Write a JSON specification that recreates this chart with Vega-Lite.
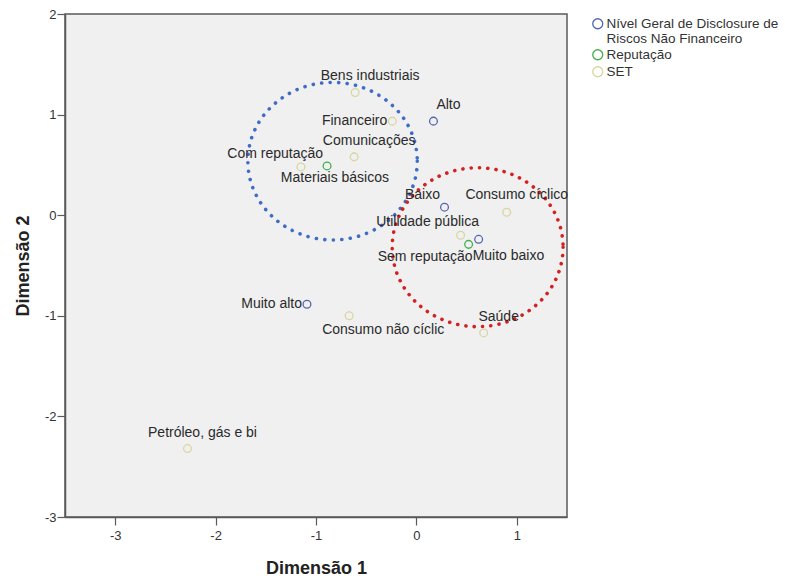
{
  "$schema": "https://vega.github.io/schema/vega-lite/v6.json",
  "width": 502,
  "height": 503,
  "autosize": {"type": "none"},
  "padding": {"left": 65, "top": 14, "right": 218, "bottom": 62},
  "background": "white",
  "config": {
    "font": "Liberation Sans",
    "view": {"fill": "#f0f0f0", "stroke": "#5a5a5a", "strokeWidth": 1.5}
  },
  "data": {
    "values": [
      {"label": "Alto", "grupo": "Nível Geral de Disclosure de Riscos Não Financeiro", "x": 0.17, "y": 0.935},
      {"label": "Baixo", "grupo": "Nível Geral de Disclosure de Riscos Não Financeiro", "x": 0.28, "y": 0.08},
      {"label": "Muito baixo", "grupo": "Nível Geral de Disclosure de Riscos Não Financeiro", "x": 0.62, "y": -0.24},
      {"label": "Muito alto", "grupo": "Nível Geral de Disclosure de Riscos Não Financeiro", "x": -1.09, "y": -0.885},
      {"label": "Com reputação", "grupo": "Reputação", "x": -0.89, "y": 0.49},
      {"label": "Sem reputação", "grupo": "Reputação", "x": 0.52, "y": -0.29},
      {"label": "Bens industriais", "grupo": "SET", "x": -0.61, "y": 1.22},
      {"label": "Financeiro", "grupo": "SET", "x": -0.24, "y": 0.935},
      {"label": "Comunicações", "grupo": "SET", "x": -0.62, "y": 0.58},
      {"label": "Materiais básicos", "grupo": "SET", "x": -1.15, "y": 0.48},
      {"label": "Consumo cíclico", "grupo": "SET", "x": 0.9, "y": 0.03},
      {"label": "Utilidade pública", "grupo": "SET", "x": 0.44, "y": -0.2},
      {"label": "Saúde", "grupo": "SET", "x": 0.67, "y": -1.17},
      {"label": "Consumo não cíclic", "grupo": "SET", "x": -0.67, "y": -1.0},
      {"label": "Petróleo, gás e bi", "grupo": "SET", "x": -2.28, "y": -2.32}
    ]
  },
  "encoding": {
    "x": {
      "field": "x", "type": "quantitative",
      "scale": {"domain": [-3.5, 1.5], "nice": false, "zero": false},
      "axis": {"title": "Dimensão 1", "values": [-3, -2, -1, 0, 1], "labelExpr": "'' + datum.value", "grid": false, "tickSize": 8, "labelPadding": 4, "labelFontSize": 13, "labelColor": "#333333", "titleFontSize": 18, "titleFontWeight": "bold", "titleColor": "#222222", "titlePadding": 17, "domainColor": "#5a5a5a", "domainWidth": 1.5, "tickColor": "#5a5a5a", "tickWidth": 1.2}
    },
    "y": {
      "field": "y", "type": "quantitative",
      "scale": {"domain": [-3, 2], "nice": false, "zero": false},
      "axis": {"title": "Dimensão 2", "values": [-3, -2, -1, 0, 1, 2], "labelExpr": "'' + datum.value", "grid": false, "tickSize": 8, "labelPadding": 1, "labelFontSize": 13, "labelColor": "#333333", "titleFontSize": 18, "titleFontWeight": "bold", "titleColor": "#222222", "titlePadding": 12, "domainColor": "#5a5a5a", "domainWidth": 1.5, "tickColor": "#5a5a5a", "tickWidth": 1.2}
    }
  },
  "layer": [
    {
      "data": {"values": [{"x": -0.835, "y": 0.537}]},
      "mark": {"type": "point", "shape": "M 1 0 C 1 0.5136 0.5523 0.93 0 0.93 C -0.5523 0.93 -1 0.5136 -1 0 C -1 -0.5136 -0.5523 -0.93 0 -0.93 C 0.5523 -0.93 1 -0.5136 1 0 Z", "size": 28700, "filled": false, "stroke": "#3f6cc6", "strokeWidth": 3.6, "strokeDash": [0.1, 8.4], "strokeCap": "round", "opacity": 1}
    },
    {
      "data": {"values": [{"x": 0.61, "y": -0.318}]},
      "mark": {"type": "point", "shape": "M 1 0 C 1 0.5136 0.5523 0.93 0 0.93 C -0.5523 0.93 -1 0.5136 -1 0 C -1 -0.5136 -0.5523 -0.93 0 -0.93 C 0.5523 -0.93 1 -0.5136 1 0 Z", "size": 29200, "filled": false, "stroke": "#d42020", "strokeWidth": 3.6, "strokeDash": [0.1, 8.2], "strokeCap": "round", "opacity": 1}
    },
    {
      "mark": {"type": "point", "shape": "circle", "filled": false, "size": 60, "strokeWidth": 1.3, "opacity": 1},
      "encoding": {
        "color": {
          "field": "grupo", "type": "nominal",
          "scale": {"domain": ["Nível Geral de Disclosure de Riscos Não Financeiro", "Reputação", "SET"], "range": ["#5565ad", "#45ad4e", "#d8d6a0"]},
          "legend": {"title": null, "orient": "none", "legendX": 526, "legendY": 3, "symbolType": "circle", "symbolSize": 100, "symbolStrokeWidth": 1.3, "labelFontSize": 13.5, "labelColor": "#333333", "labelLimit": 240, "rowPadding": 1, "labelOffset": 2,
            "labelExpr": "datum.label == 'Nível Geral de Disclosure de Riscos Não Financeiro' ? ['Nível Geral de Disclosure de', 'Riscos Não Financeiro'] : datum.label"}
        }
      }
    },
    {
      "transform": [{"filter": {"field": "label", "oneOf": ["Bens industriais", "Comunicações", "Saúde", "Petróleo, gás e bi", "Alto"]}}],
      "mark": {"type": "text", "fontSize": 14, "color": "#2a2a2a", "dx": 15, "dy": -16},
      "encoding": {"text": {"field": "label"}}
    },
    {
      "transform": [{"filter": {"field": "label", "equal": "Consumo cíclico"}}],
      "mark": {"type": "text", "fontSize": 14, "color": "#2a2a2a", "dx": 10, "dy": -17},
      "encoding": {"text": {"field": "label"}}
    },
    {
      "transform": [{"filter": {"field": "label", "oneOf": ["Financeiro", "Muito alto"]}}],
      "mark": {"type": "text", "fontSize": 14, "color": "#2a2a2a", "align": "right", "dx": -5, "dy": 0},
      "encoding": {"text": {"field": "label"}}
    },
    {
      "transform": [{"filter": {"field": "label", "equal": "Com reputação"}}],
      "mark": {"type": "text", "fontSize": 14, "color": "#2a2a2a", "align": "right", "dx": -4, "dy": -12},
      "encoding": {"text": {"field": "label"}}
    },
    {
      "transform": [{"filter": {"field": "label", "equal": "Materiais básicos"}}],
      "mark": {"type": "text", "fontSize": 14, "color": "#2a2a2a", "dx": 34, "dy": 11},
      "encoding": {"text": {"field": "label"}}
    },
    {
      "transform": [{"filter": {"field": "label", "equal": "Baixo"}}],
      "mark": {"type": "text", "fontSize": 14, "color": "#2a2a2a", "dx": -22, "dy": -12},
      "encoding": {"text": {"field": "label"}}
    },
    {
      "transform": [{"filter": {"field": "label", "equal": "Utilidade pública"}}],
      "mark": {"type": "text", "fontSize": 14, "color": "#2a2a2a", "dx": -33, "dy": -13},
      "encoding": {"text": {"field": "label"}}
    },
    {
      "transform": [{"filter": {"field": "label", "equal": "Sem reputação"}}],
      "mark": {"type": "text", "fontSize": 14, "color": "#2a2a2a", "align": "right", "dx": 4, "dy": 13},
      "encoding": {"text": {"field": "label"}}
    },
    {
      "transform": [{"filter": {"field": "label", "equal": "Muito baixo"}}],
      "mark": {"type": "text", "fontSize": 14, "color": "#2a2a2a", "align": "left", "dx": -6, "dy": 17},
      "encoding": {"text": {"field": "label"}}
    },
    {
      "transform": [{"filter": {"field": "label", "equal": "Consumo não cíclic"}}],
      "mark": {"type": "text", "fontSize": 14, "color": "#2a2a2a", "align": "left", "dx": -27, "dy": 14},
      "encoding": {"text": {"field": "label"}}
    }
  ]
}
